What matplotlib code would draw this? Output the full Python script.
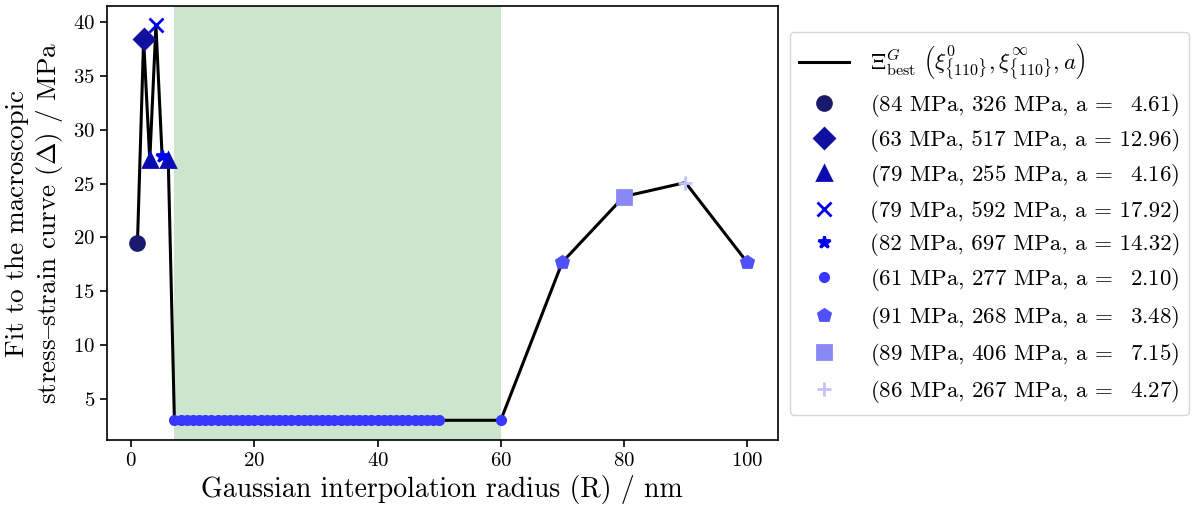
import matplotlib
matplotlib.use("Agg")
import matplotlib.pyplot as plt

plt.rcParams["font.family"] = ["cmr10", "DejaVu Serif"]
plt.rcParams["mathtext.fontset"] = "cm"
plt.rcParams["axes.formatter.use_mathtext"] = True

# Gaussian interpolation radius (nm) and best fit error (MPa)
radius = [1, 2, 3, 4, 5, 6,
          7, 8, 9, 10, 11, 12, 13, 14, 15, 16, 17, 18, 19, 20, 21,
          22, 23, 24, 25, 26, 27, 28, 29, 30, 31, 32, 33, 34, 35, 36,
          37, 38, 39, 40, 41, 42, 43, 44, 45, 46, 47, 48, 49, 50,
          60, 70, 80, 90, 100]
fit = [19.5, 38.4, 27.2, 39.7, 27.6, 27.2,
       3.0, 3.0, 3.0, 3.0, 3.0, 3.0, 3.0, 3.0, 3.0, 3.0, 3.0, 3.0, 3.0, 3.0, 3.0,
       3.0, 3.0, 3.0, 3.0, 3.0, 3.0, 3.0, 3.0, 3.0, 3.0, 3.0, 3.0, 3.0, 3.0, 3.0,
       3.0, 3.0, 3.0, 3.0, 3.0, 3.0, 3.0, 3.0, 3.0, 3.0, 3.0, 3.0, 3.0, 3.0,
       3.0, 17.7, 23.8, 25.1, 17.7]
# which parameter set gives the best fit at each radius
best_set = [0, 1, 2, 3, 4, 2,
            5, 5, 5, 5, 5, 5, 5, 5, 5, 5, 5, 5, 5, 5, 5,
            5, 5, 5, 5, 5, 5, 5, 5, 5, 5, 5, 5, 5, 5, 5,
            5, 5, 5, 5, 5, 5, 5, 5, 5, 5, 5, 5, 5, 5,
            5, 6, 7, 8, 6]

# parameter sets: xi0 (MPa), xi_inf (MPa), a
xi0 = [84, 63, 79, 79, 82, 61, 91, 89, 86]
xi_inf = [326, 517, 255, 592, 697, 277, 268, 406, 267]
a_par = [4.61, 12.96, 4.16, 17.92, 14.32, 2.10, 3.48, 7.15, 4.27]

markers = ["o", "D", "^", "x", "*", "o", "p", "s", "+"]
sizes = [10, 10, 10, 10, 9, 6, 9, 10, 10]
colors = ["#19196e", "#1010a0", "#0b0bb2", "#0000e6", "#0000f2",
          "#3838ff", "#5050fc", "#8888f6", "#c2c2fc"]

fig = plt.figure(figsize=(11.98, 5.11), dpi=100)
ax = fig.add_axes([0.0893, 0.139, 0.5597, 0.849])

ax.axvspan(7, 60, color="green", alpha=0.2, lw=0)
ax.plot(radius, fit, color="black", lw=2.2, zorder=2,
        label=r"$\Xi^G_{\mathrm{best}}\ \left(\xi^0_{\{110\}},\xi^\infty_{\{110\}},a\right)$")

for k in range(len(xi0)):
    xs = [r for r, s in zip(radius, best_set) if s == k]
    ys = [f for f, s in zip(fit, best_set) if s == k]
    pad = r"$\enspace$" if a_par[k] < 10 else ""
    lab = f"({xi0[k]} MPa, {xi_inf[k]} MPa, a = {pad}{a_par[k]:.2f})"
    ax.plot(xs, ys, ls="none", marker=markers[k], ms=sizes[k], mew=2,
            color=colors[k], zorder=3, label=lab)

ax.set_xlim(-3.95, 104.95)
ax.set_ylim(1.17, 41.5)
ax.set_yticks([5, 10, 15, 20, 25, 30, 35, 40])
ax.set_xticks([0, 20, 40, 60, 80, 100])
ax.tick_params(labelsize=15, width=1.2, length=5)
for sp in ax.spines.values():
    sp.set_linewidth(1.2)

ax.set_xlabel("Gaussian interpolation radius (R) / nm", fontsize=20)
ax.set_ylabel("Fit to the macroscopic\nstress$\u2013$strain curve ($\\Delta$) / MPa",
              fontsize=19.5, labelpad=6)

ax.legend(loc="center left", bbox_to_anchor=(1.018, 0.5), borderaxespad=0,
          fontsize=16.5, handlelength=2.2, handletextpad=0.9,
          labelspacing=0.45)

fig.savefig("out.png", dpi=100)
